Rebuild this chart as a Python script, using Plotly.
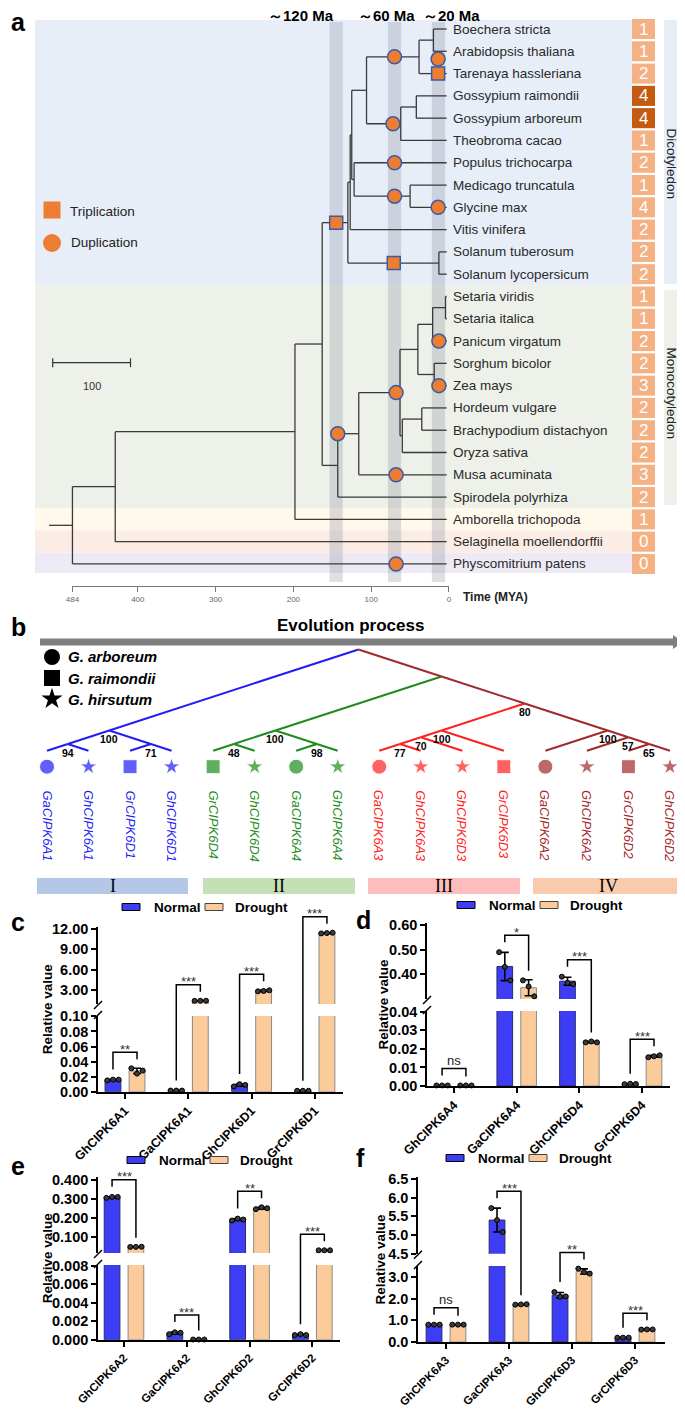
import numpy as np
import plotly.graph_objects as go

# page geometry: the browser adds an 8 px body margin, so the figure is drawn 8 px in from the top-left
PAGE_W, PAGE_H = 685, 1416
OX, OY = 8, 8
FW, FH = PAGE_W - OX, PAGE_H - 2 * OY
def PX(p): return (p - OX) / FW
def PY(p): return 1 - (p - OY) / FH
SANS = "Liberation Sans, Arial, Helvetica, sans-serif"
NARROW = "Liberation Sans Narrow, Arial Narrow, Liberation Sans, Arial, sans-serif"
SERIF = "Liberation Serif, Times New Roman, serif"

# ===================== DATA =====================
# ---- panel a: species tree ----
species = ["Boechera stricta", "Arabidopsis thaliana", "Tarenaya hassleriana", "Gossypium raimondii",
           "Gossypium arboreum", "Theobroma cacao", "Populus trichocarpa", "Medicago truncatula",
           "Glycine max", "Vitis vinifera", "Solanum tuberosum", "Solanum lycopersicum",
           "Setaria viridis", "Setaria italica", "Panicum virgatum", "Sorghum bicolor", "Zea mays",
           "Hordeum vulgare", "Brachypodium distachyon", "Oryza sativa", "Musa acuminata",
           "Spirodela polyrhiza", "Amborella trichopoda", "Selaginella moellendorffii", "Physcomitrium patens"]
gene_counts = [1, 1, 2, 4, 4, 1, 2, 1, 4, 2, 2, 2, 1, 1, 2, 2, 3, 2, 2, 2, 3, 2, 1, 0, 0]
node_names = ["Brassicaceae", "Brassicales", "Gossypium", "Malvales", "Malvids", "Legumes", "Fabids",
              "Rosids", "VitisRosids", "Solanum", "Eudicots", "Setaria", "SetPan", "SorZea", "Panicoid",
              "Pooid", "BOP", "Grasses", "MusaGrass", "Monocots", "Mesangio", "Angio", "Vascular", "Root"]
node_ages = [20, 38.5, 42, 62, 106, 50, 122, 125, 127, 13, 130, 4.5, 21, 19, 40, 35, 60, 63, 116, 143,
             163, 198, 429, 484]
node_children = [[0, 1], ["Brassicaceae", 2], [3, 4], ["Gossypium", 5], ["Brassicales", "Malvales"],
                 [7, 8], [6, "Legumes"], ["Malvids", "Fabids"], ["Rosids", 9], [10, 11],
                 ["VitisRosids", "Solanum"], [12, 13], ["Setaria", 14], [15, 16], ["SetPan", "SorZea"],
                 [17, 18], ["Pooid", 19], ["Panicoid", "BOP"], ["Grasses", 20], ["MusaGrass", 21],
                 ["Eudicots", "Monocots"], ["Mesangio", 22], ["Angio", 23], ["Vascular", 24]]
TIP_AGE = 3
STEM_AGE = 514
dup_ages = [70, 14, 72, 70, 70, 14, 143, 68, 13, 13, 68, 68]
dup_at = ["Brassicales", 1.35, "Malvales", "Populus trichocarpa", "Legumes", "Glycine max", "MusaGrass",
          "Grasses", "Panicum virgatum", "Zea mays", "Musa acuminata", "Physcomitrium patens"]
trip_ages = [145, 71, 14]
trip_at = ["Eudicots", "Solanum", "Tarenaya hassleriana"]
wgd_band_ages = [145, 70, 13.5]
wgd_labels = ["～120 Ma", "～60 Ma", "～20 Ma"]
time_ticks = [484, 400, 300, 200, 100, 0]
scale_len = 100
class_names = ["Dicotyledon", "Monocotyledon"]

# ---- panel b: CIPK6 gene tree ----
genes_b = ["GaCIPK6A1", "GhCIPK6A1", "GrCIPK6D1", "GhCIPK6D1", "GrCIPK6D4", "GhCIPK6D4", "GaCIPK6A4",
           "GhCIPK6A4", "GaCIPK6A3", "GhCIPK6A3", "GhCIPK6D3", "GrCIPK6D3", "GaCIPK6A2", "GhCIPK6A2",
           "GrCIPK6D2", "GhCIPK6D2"]
tree_b = (((0, 1), (2, 3)), (((4, 5), (6, 7)), ((((8, 9), 10), 11), (12, (13, (14, 15))))))
boot_span = [(0, 3), (0, 1), (2, 3), (4, 7), (4, 5), (6, 7), (8, 11), (8, 10), (8, 9), (8, 15), (12, 15),
             (13, 15), (14, 15)]
boot_val = [100, 94, 71, 100, 48, 98, 100, 70, 77, 80, 100, 57, 65]
subfamilies = ["I", "II", "III", "IV"]
cotton_species = ["G. arboreum", "G. raimondii", "G. hirsutum"]

# ---- panels c-f: qRT-PCR (3 replicates) ----
genes_c = ["GhCIPK6A1", "GaCIPK6A1", "GhCIPK6D1", "GrCIPK6D1"]
normal_c = [[0.015, 0.016, 0.016], [0.0015, 0.0015, 0.0015], [0.007, 0.010, 0.009], [0.0012, 0.0012, 0.0012]]
drought_c = [[0.031, 0.024, 0.028], [1.45, 1.46, 1.47], [2.85, 2.9, 3.0], [11.35, 11.4, 11.45]]
sig_c = ["**", "***", "***", "***"]

genes_d = ["GhCIPK6A4", "GaCIPK6A4", "GhCIPK6D4", "GrCIPK6D4"]
normal_d = [[0.0003, 0.0003, 0.0003], [0.49, 0.43, 0.375], [0.39, 0.365, 0.36], [0.0010, 0.0012, 0.0011]]
drought_d = [[0.0003, 0.0003, 0.0003], [0.375, 0.35, 0.31], [0.0235, 0.024, 0.0235], [0.0155, 0.016, 0.0165]]
sig_d = ["ns", "*", "***", "***"]

genes_e = ["GhCIPK6A2", "GaCIPK6A2", "GhCIPK6D2", "GrCIPK6D2"]
normal_e = [[0.305, 0.31, 0.31], [0.0006, 0.0008, 0.00075], [0.185, 0.195, 0.19], [0.0005, 0.0006, 0.0005]]
drought_e = [[0.045, 0.045, 0.046], [0.00002, 0.00002, 0.00002], [0.245, 0.255, 0.25], [0.027, 0.027, 0.027]]
sig_e = ["***", "***", "**", "***"]

genes_f = ["GhCIPK6A3", "GaCIPK6A3", "GhCIPK6D3", "GrCIPK6D3"]
normal_f = [[0.8, 0.8, 0.8], [5.72, 5.4, 5.08], [2.3, 2.08, 2.1], [0.2, 0.2, 0.2]]
drought_f = [[0.8, 0.8, 0.8], [1.72, 1.73, 1.74], [3.38, 3.22, 3.15], [0.57, 0.58, 0.58]]
sig_f = ["ns", "***", "**", "***"]

# ===================== STYLE =====================
ORANGE = "#ED7D31"
EDGE_BLUE = "#3B5BA5"
BOX_LIGHT = "#F4B183"
BOX_DARK = "#C55A11"
BAND_COLORS = ["#E8EEF7", "#EDF1E9", "#FFF9EC", "#FBEDE5", "#EEEAF5"]
BAND_ROWS = [(-0.42, 11.5), (11.5, 21.5), (21.5, 22.5), (22.5, 23.5), (23.5, 24.4)]
CLADE_COLORS = ["#1F1FF5", "#1E8C1E", "#FF2121", "#A3292B"]
SUB_COLORS = ["#B4C7E7", "#C5E0B4", "#FFBCBC", "#F8CBAD"]
C_NORMAL = "#3D3DF5"
C_DROUGHT = "#FCCB9A"

fig = go.Figure()
shapes, annots = [], []
layout_axes = {}

def text(x, y, s, size=13, color="black", xanchor="center", yanchor="middle", xref="paper", yref="paper",
         angle=0, family=SANS, **kw):
    annots.append(dict(x=x, y=y, text=s, showarrow=False, xref=xref, yref=yref, xanchor=xanchor,
                       yanchor=yanchor, textangle=angle, font=dict(size=size, color=color, family=family),
                       **kw))

def ptext(px, py, s, **kw):
    text(PX(px), PY(py), s, **kw)

def prect(x0, y0, x1, y1, fill, line=None, lw=0, layer="below"):
    shapes.append(dict(type="rect", xref="paper", yref="paper", x0=PX(x0), x1=PX(x1), y0=PY(y1), y1=PY(y0),
                       fillcolor=fill, line=dict(color=line or fill, width=lw), layer=layer))

def pline(pts, color="black", width=1.5):
    d = "M " + " L ".join(f"{PX(x):.5f},{PY(y):.5f}" for x, y in pts)
    shapes.append(dict(type="path", path=d, xref="paper", yref="paper", line=dict(color=color, width=width)))

# ===================== PANEL A =====================
A_T0, A_K, A_ROW0, A_ROWH, A_BOT = 449.0, 0.778, 29.0, 22.29, 586.0
def a_age(px): return (A_T0 - px) / A_K
def a_row(py): return (py - A_ROW0) / A_ROWH

layout_axes["xaxis"] = dict(domain=[0, 1], range=[a_age(OX), a_age(OX + FW)], visible=False, automargin=False)
layout_axes["yaxis"] = dict(domain=[PY(A_BOT), 1], range=[a_row(A_BOT), a_row(OY)], visible=False,
                            automargin=False)
layout_axes["xaxis2"] = dict(domain=[PX(A_T0 - 484 * A_K), PX(A_T0)], range=[484, 0], anchor="y",
                             showline=True, linecolor="#777", linewidth=1, ticks="outside", ticklen=5,
                             tickcolor="#777", tickvals=time_ticks, ticktext=[str(t) for t in time_ticks],
                             tickfont=dict(size=8, color="#666", family=SANS), showgrid=False, zeroline=False,
                             automargin=False)

for (r0, r1), col in zip(BAND_ROWS, BAND_COLORS):
    shapes.append(dict(type="rect", xref="paper", yref="y", x0=PX(35), x1=PX(632), y0=r0, y1=r1,
                       fillcolor=col, line=dict(width=0), layer="below"))
for ag in wgd_band_ages:
    shapes.append(dict(type="rect", xref="x", yref="paper", x0=ag + 8.5, x1=ag - 8.5, y0=PY(582), y1=PY(22),
                       fillcolor="rgba(128,138,150,0.27)", line=dict(width=0), layer="below"))
for lab, cx in zip(wgd_labels, [301, 386, 451]):
    ptext(cx, 15, f"<b>{lab}</b>", size=15)

nrow, nage = {}, {}
for nm, ag, ch in zip(node_names, node_ages, node_children):
    rows = [c if isinstance(c, int) else nrow[c] for c in ch]
    nrow[nm] = (min(rows) + max(rows)) / 2
    nage[nm] = ag
sx, sy = [], []
for nm, ag, ch in zip(node_names, node_ages, node_children):
    rows = [c if isinstance(c, int) else nrow[c] for c in ch]
    sx += [ag, ag, None]; sy += [min(rows), max(rows), None]
    for c in ch:
        cr = c if isinstance(c, int) else nrow[c]
        ca = TIP_AGE if isinstance(c, int) else nage[c]
        sx += [ag, ca, None]; sy += [cr, cr, None]
sx += [STEM_AGE, nage["Root"], None]; sy += [nrow["Root"], nrow["Root"], None]
fig.add_trace(go.Scatter(x=sx, y=sy, mode="lines", line=dict(color="#3a3a3a", width=1.3),
                         xaxis="x", yaxis="y", hoverinfo="skip"))

def ref_row(r):
    if isinstance(r, str):
        return nrow[r] if r in nrow else species.index(r)
    return r

fig.add_trace(go.Scatter(x=dup_ages, y=[ref_row(r) for r in dup_at], mode="markers", xaxis="x", yaxis="y",
                         marker=dict(symbol="circle", size=14, color=ORANGE, line=dict(color=EDGE_BLUE, width=1.5)),
                         hoverinfo="skip", cliponaxis=False))
fig.add_trace(go.Scatter(x=trip_ages, y=[ref_row(r) for r in trip_at], mode="markers", xaxis="x", yaxis="y",
                         marker=dict(symbol="square", size=13, color=ORANGE, line=dict(color=EDGE_BLUE, width=1.5)),
                         hoverinfo="skip", cliponaxis=False))

for i, (sp, n) in enumerate(zip(species, gene_counts)):
    text(TIP_AGE, i, sp, size=13.5, color="#2a2a2a", xanchor="left", xref="x", yref="y", xshift=4)
    col = BOX_DARK if sp.startswith("Gossypium") else BOX_LIGHT
    shapes.append(dict(type="rect", xref="paper", yref="y", x0=PX(632), x1=PX(655), y0=i - 0.45, y1=i + 0.45,
                       fillcolor=col, line=dict(width=0), layer="below"))
    text(PX(643.5), i, str(n), size=17, color="white", yref="y")

for nm, (r0, r1), col, cy in zip(class_names, [(-0.42, 11.44), (11.7, 21.35)], ["#E6EEF8", "#EDF1E9"],
                                 [164, 393]):
    shapes.append(dict(type="rect", xref="paper", yref="y", x0=PX(664), x1=PX(686), y0=r0, y1=r1,
                       fillcolor=col, line=dict(width=0), layer="below"))
    ptext(671.5, cy, nm, size=13.5, color="#222", angle=90)

fig.add_trace(go.Scatter(x=[a_age(52)], y=[a_row(210)], mode="markers", xaxis="x", yaxis="y", hoverinfo="skip",
                         marker=dict(symbol="square", size=17, color=ORANGE)))
fig.add_trace(go.Scatter(x=[a_age(52)], y=[a_row(243)], mode="markers", xaxis="x", yaxis="y", hoverinfo="skip",
                         marker=dict(symbol="circle", size=18, color=ORANGE)))
ptext(68, 211, "Triplication", size=13.5, color="#222", xanchor="left")
ptext(69, 243, "Duplication", size=13.5, color="#222", xanchor="left")

sb0 = a_age(52.7)
sbr = a_row(362.7)
fig.add_trace(go.Scatter(x=[sb0, sb0 - scale_len, None, sb0, sb0, None, sb0 - scale_len, sb0 - scale_len],
                         y=[sbr, sbr, None, sbr - 0.2, sbr + 0.2, None, sbr - 0.2, sbr + 0.2],
                         mode="lines", line=dict(color="#333", width=1.2), xaxis="x", yaxis="y", hoverinfo="skip"))
text(sb0 - scale_len / 2, a_row(386), str(scale_len), size=11, color="#333", xref="x", yref="y")

fig.add_trace(go.Scatter(x=[0], y=[-100], mode="markers", xaxis="x2", yaxis="y", marker=dict(opacity=0),
                         hoverinfo="skip"))
ptext(461, 597, "<b>Time (MYA)</b>", size=12, color="#222", xanchor="left")
ptext(9, 22, "<b>a</b>", size=25, xanchor="left")

# ===================== PANEL B =====================
B_X0, B_DX, B_TIP, B_SLOPE = 47.0, 41.53, 750.7, 0.325
B_DY = B_DX * B_SLOPE
def b_x(px): return (px - B_X0) / B_DX
def b_y(py): return (B_TIP - py) / B_DY
layout_axes["xaxis3"] = dict(domain=[0, 1], range=[b_x(OX), b_x(OX + FW)], visible=False, automargin=False)
layout_axes["yaxis2"] = dict(domain=[PY(860), PY(600)], range=[b_y(860), b_y(600)], visible=False, anchor="x3",
                             automargin=False)

clade = [i // 4 for i in range(len(genes_b))]
edges = {k: ([], []) for k in range(4)}
nodes_b = {}
def walk(t):
    if isinstance(t, int):
        return (t, t)
    spans = [walk(c) for c in t]
    lo, hi = spans[0][0], spans[-1][1]
    px_, py_ = (lo + hi) / 2, (hi - lo) / 2
    nodes_b[(lo, hi)] = (px_, py_)
    for (clo, chi) in spans:
        cx, cy = (clo + chi) / 2, (chi - clo) / 2
        k = clade[clo] if clade[clo] == clade[chi] else 3
        edges[k][0].extend([px_, cx, None]); edges[k][1].extend([py_, cy, None])
    return (lo, hi)
walk(tree_b)
for k in range(4):
    fig.add_trace(go.Scatter(x=edges[k][0], y=edges[k][1], mode="lines", xaxis="x3", yaxis="y2",
                             line=dict(color=CLADE_COLORS[k], width=2), hoverinfo="skip"))
for span, v in zip(boot_span, boot_val):
    nx, ny = nodes_b[span]
    text(nx, ny, f"<b>{v}</b>", size=10.5, xref="x3", yref="y2", yshift=-9)

sym_of = {"Ga": "circle", "Gr": "square", "Gh": "star"}
size_of = {"Ga": 15, "Gr": 14, "Gh": 13}
for k in range(4):
    idx = [i for i in range(len(genes_b)) if clade[i] == k]
    fig.add_trace(go.Scatter(x=idx, y=[b_y(766.7)] * len(idx), mode="markers", xaxis="x3", yaxis="y2",
                             hoverinfo="skip", cliponaxis=False,
                             marker=dict(symbol=[sym_of[genes_b[i][:2]] for i in idx],
                                         size=[size_of[genes_b[i][:2]] for i in idx], color=CLADE_COLORS[k])))
for i, g in enumerate(genes_b):
    text(i, b_y(788), f"<i>{g}</i>", size=13, color=CLADE_COLORS[clade[i]], xref="x3", yref="y2",
         angle=90, yanchor="top", family=NARROW)
for sp, sym, py in zip(cotton_species, ["circle", "square", "star"], [657, 678, 699]):
    fig.add_trace(go.Scatter(x=[b_x(52)], y=[b_y(py)], mode="markers", xaxis="x3", yaxis="y2", hoverinfo="skip",
                             marker=dict(symbol=sym, size=16, color="black")))
    ptext(66, py, f"<b><i>{sp}</i></b>", size=15, xanchor="left")
shapes.append(dict(type="path", xref="paper", yref="paper", fillcolor="#7F7F7F", line=dict(width=0),
                   path=("M {},{} L {},{} L {},{} L {},{} L {},{} L {},{} L {},{} Z").format(
                       PX(40), PY(638.5), PX(673), PY(638.5), PX(673), PY(635), PX(683), PY(642),
                       PX(673), PY(649), PX(673), PY(645.5), PX(40), PY(645.5))))
ptext(350, 625, "<b>Evolution process</b>", size=17)
ptext(9, 627, "<b>b</b>", size=25, xanchor="left")
for lab, (x0, x1), col in zip(subfamilies, [(37, 188), (203, 355), (368, 520), (533, 683)], SUB_COLORS):
    prect(x0, 878, x1, 894, col)
    ptext((x0 + x1) / 2, 886.5, lab, size=18, family=SERIF)

# ===================== PANELS C-F =====================
OFF, BW = 0.19, 0.25

def bar_panel(genes, normal, drought, sig, cfg, xa, ylo, yhi):
    c0, step = cfg["c0"], cfg["step"]
    xr = [(cfg["x_px"][0] - c0) / step, (cfg["x_px"][1] - c0) / step]
    ld, lr, hd, hr = cfg["lo_dom"], cfg["lo_rng"], cfg["hi_dom"], cfg["hi_rng"]
    bold = lambda s: f"<b>{s}</b>"
    layout_axes["xaxis" + xa[1:]] = dict(
        domain=[PX(cfg["x_px"][0]), PX(cfg["x_px"][1])], range=xr, anchor=ylo, showline=True,
        linecolor="black", linewidth=1.6, ticks="outside", ticklen=5, tickwidth=1.6, tickcolor="black",
        tickvals=list(range(len(genes))), ticktext=[bold(g) for g in genes], tickangle=-45,
        tickfont=dict(size=cfg["xfont"], family=SANS, color="black"), showgrid=False, zeroline=False,
        automargin=False)
    for yname, dom, rng, ticks in [(ylo, ld, lr, cfg["lo_ticks"]), (yhi, hd, hr, cfg["hi_ticks"])]:
        layout_axes["yaxis" + yname[1:]] = dict(
            domain=[PY(dom[0]), PY(dom[1])], range=list(rng), anchor=xa, showline=True, linecolor="black",
            linewidth=1.6, ticks="outside", ticklen=5, tickwidth=1.6, tickcolor="black", tickvals=ticks,
            ticktext=[bold(cfg["fmt"].format(t)) for t in ticks], tickfont=dict(size=14.5, family=SANS, color="black"),
            showgrid=False, zeroline=False, automargin=False)
    mn = [float(np.mean(p)) for p in normal]; md = [float(np.mean(p)) for p in drought]
    sn = [float(np.std(p, ddof=1)) for p in normal]; sd = [float(np.std(p, ddof=1)) for p in drought]
    n = len(genes)
    for yname, rng in [(ylo, lr), (yhi, hr)]:
        inr = lambda v: rng[0] - 1e-12 <= v <= rng[1] * 1.0001
        for means, sds, pts, off, fill, edge in [(mn, sn, normal, -OFF, C_NORMAL, "#2b2b6b"),
                                                 (md, sd, drought, OFF, C_DROUGHT, "#8a8a8a")]:
            fig.add_trace(go.Bar(x=[i + off for i in range(n)], y=means, width=BW, xaxis=xa, yaxis=yname,
                                 marker=dict(color=fill, line=dict(color=edge, width=1)), hoverinfo="skip"))
            ex = [i + off for i in range(n) if inr(means[i])]
            ey = [means[i] for i in range(n) if inr(means[i])]
            ee = [sds[i] for i in range(n) if inr(means[i])]
            if ex:
                fig.add_trace(go.Scatter(x=ex, y=ey, mode="markers", marker=dict(size=1, opacity=0),
                                         error_y=dict(type="data", array=ee, color="black", thickness=1.6, width=4),
                                         xaxis=xa, yaxis=yname, hoverinfo="skip", cliponaxis=False))
            px_, py_ = [], []
            for i in range(n):
                for j, v in enumerate(pts[i]):
                    if inr(v):
                        px_.append(i + off + (j - 1) * 0.09); py_.append(v)
            if px_:
                fig.add_trace(go.Scatter(x=px_, y=py_, mode="markers", xaxis=xa, yaxis=yname, hoverinfo="skip",
                                         cliponaxis=False,
                                         marker=dict(size=5, color="#3a3a3a", line=dict(color="black", width=1))))

    def vy(v):
        if v <= lr[1]:
            return ld[0] - (v - lr[0]) / (lr[1] - lr[0]) * (ld[0] - ld[1])
        if v >= hr[0]:
            return hd[0] - (v - hr[0]) / (hr[1] - hr[0]) * (hd[0] - hd[1])
        return ld[1]
    for i in range(n):
        tn = vy(max(max(normal[i]), mn[i] + sn[i]))
        td = vy(max(max(drought[i]), md[i] + sd[i]))
        xl, xr_ = c0 + (i - OFF) * step, c0 + (i + OFF) * step
        lb, rb = tn - 10, td - 9
        top = min(lb, rb) - 7
        pline([(xl, lb), (xl, top), (xr_, top), (xr_, rb)], width=1.5)
        if sig[i] == "ns":
            ptext((xl + xr_) / 2, top - 8, "ns", size=13, color="#222")
        else:
            ptext((xl + xr_) / 2, top - 3, sig[i], size=13, color="#333")
    ax = cfg["x_px"][0]
    for yb in (hd[0] + 1, ld[1] - 1):
        pline([(ax - 4, yb + 4), (ax + 4, yb - 4)], width=1.5)
    lx, ly = cfg["legend"]
    prect(lx, ly - 3.5, lx + 18, ly + 3.5, C_NORMAL, "black", 1, layer="above")
    ptext(lx + 30, ly, "<b>Normal</b>", size=13.5, xanchor="left")
    prect(lx + 83, ly - 3.5, lx + 101, ly + 3.5, C_DROUGHT, "#444", 1, layer="above")
    ptext(lx + 111, ly, "<b>Drought</b>", size=13.5, xanchor="left")
    ptext(cfg["ytitle_x"], (ld[0] + hd[1]) / 2, "<b>Relative value</b>", size=13.5, angle=-90)
    lab, lpx, lpy = cfg["label"]
    ptext(lpx, lpy, f"<b>{lab}</b>", size=25, xanchor="left")

cfg_c = dict(x_px=(98, 343), c0=125, step=63.3, lo_dom=(1091.7, 1016), lo_rng=(0, 0.1005),
             hi_dom=(1004, 927), hi_rng=(0.99, 12.29), lo_ticks=[0, 0.02, 0.04, 0.06, 0.08, 0.10],
             hi_ticks=[3, 6, 9, 12], fmt="{:.2f}", legend=(122, 907), ytitle_x=47, label=("c", 9, 922),
             xfont=12.5)
cfg_d = dict(x_px=(427, 670), c0=454, step=62.7, lo_dom=(1086, 1011), lo_rng=(0, 0.0404),
             hi_dom=(999, 923), hi_rng=(0.299, 0.609), lo_ticks=[0, 0.01, 0.02, 0.03, 0.04],
             hi_ticks=[0.4, 0.5, 0.6], fmt="{:.2f}", legend=(457, 905), ytitle_x=383, label=("d", 354, 920),
             xfont=12.5)
cfg_e = dict(x_px=(98, 340), c0=124, step=62.8, lo_dom=(1339.7, 1265), lo_rng=(0, 0.00808),
             hi_dom=(1253, 1177), hi_rng=(0.0126, 0.4157), lo_ticks=[0, 0.002, 0.004, 0.006, 0.008],
             hi_ticks=[0.1, 0.2, 0.3, 0.4], fmt="{:.3f}", legend=(127, 1160), ytitle_x=47, label=("e", 9, 1166),
             xfont=11.5)
cfg_f = dict(x_px=(418, 665), c0=446, step=63, lo_dom=(1342, 1266), lo_rng=(0, 3.5),
             hi_dom=(1253.7, 1177), hi_rng=(4.5, 6.553), lo_ticks=[0, 1, 2, 3],
             hi_ticks=[4.5, 5.0, 5.5, 6.0, 6.5], fmt="{:.1f}", legend=(446, 1158), ytitle_x=380,
             label=("f", 354, 1158), xfont=11.5)

bar_panel(genes_c, normal_c, drought_c, sig_c, cfg_c, "x4", "y3", "y4")
bar_panel(genes_d, normal_d, drought_d, sig_d, cfg_d, "x5", "y5", "y6")
bar_panel(genes_e, normal_e, drought_e, sig_e, cfg_e, "x6", "y7", "y8")
bar_panel(genes_f, normal_f, drought_f, sig_f, cfg_f, "x7", "y9", "y10")

fig.update_layout(width=FW, height=FH, margin=dict(l=0, r=0, t=0, b=0, pad=0, autoexpand=False),
                  showlegend=False, paper_bgcolor="white", plot_bgcolor="rgba(0,0,0,0)", barmode="overlay",
                  shapes=shapes, annotations=annots, font=dict(family=SANS), **layout_axes)
fig.write_html("out.html")
